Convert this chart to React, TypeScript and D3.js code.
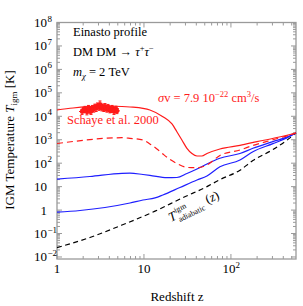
import * as d3 from 'd3';

// curves: redshift z vs IGM temperature [K]
const redSolidZ = [1, 1.53, 2.27, 3.56, 5.59, 6.9, 9.74, 11.7, 16.5, 21, 23.9, 27.3, 31.2, 35.6, 40.7, 46.4, 53, 74.7, 127, 199, 338, 560];
const redSolidT = [18600, 22600, 25700, 27500, 26200, 24900, 21900, 18600, 9620, 4700, 2200, 975, 432, 259, 203, 203, 259, 403, 580, 826, 1250, 1940];

const redDashZ = [1, 1.53, 3.56, 5.59, 6.9, 9.74, 11.7, 14.1, 16.5, 19.9, 23.9, 31.2, 40.7, 53, 74.7, 127, 179, 304, 440, 560];
const redDashT = [692, 842, 1150, 1220, 1150, 975, 659, 403, 247, 144, 97, 66, 64, 84, 213, 366, 569, 1000, 1470, 1940];

const blueUpZ = [1, 2.39, 5.59, 6.9, 9.74, 11.7, 18.4, 23.9, 31.2, 40.7, 53, 74.7, 127, 179, 304, 440, 560];
const blueUpT = [21, 27, 37, 37.5, 33, 30.5, 24.1, 24.5, 36.4, 56.6, 92.5, 162, 259, 432, 830, 1300, 1940];

const blueLowZ = [1, 1.84, 3.56, 6.9, 9.74, 13.4, 16.5, 25.9, 40.7, 53, 74.7, 127, 179, 304, 440, 560];
const blueLowT = [0.81, 0.96, 1.29, 2.0, 2.7, 3.3, 4.4, 9.2, 19.2, 28.5, 70, 137, 310, 680, 1200, 1940];

const adiabZ = [1, 2.39, 5.59, 13.4, 28.1, 53, 74.7, 127, 179, 304, 440, 560];
const adiabT = [0.025, 0.068, 0.23, 0.9, 3.4, 10, 20, 50, 130, 380, 950, 1940];

// Schaye et al. 2000 points (T in units of 1e4 K)
const schayeZ = [1.94, 2.02, 2.1, 2.21, 2.3, 2.38, 2.46, 2.55, 2.65, 2.73, 2.82, 2.92, 3.03, 3.12, 3.19, 3.28, 3.36, 3.46, 3.56, 3.66, 3.75, 3.86, 3.96, 4.06, 4.17, 4.3, 4.4, 4.52, 4.63, 4.76, 4.89];
const schayeT = [1.6, 1.9, 2.05, 1.55, 2.3, 1.85, 1.6, 2.3, 2.0, 2.6, 2.2, 2.9, 2.5, 3.2, 2.8, 2.3, 2.6, 2.1, 2.7, 2.3, 2.0, 2.5, 2.2, 1.8, 1.95, 2.3, 2.0, 1.6, 1.9, 2.1, 1.7];
const schayeErr = [0.4, 0.5, 0.6, 0.4, 0.6, 0.5, 0.4, 0.6, 0.5, 0.7, 0.6, 0.8, 0.7, 1.3, 0.8, 0.6, 0.7, 0.5, 0.8, 0.6, 0.5, 0.7, 0.6, 0.4, 0.5, 0.6, 0.5, 0.4, 0.5, 0.6, 0.4];

const yDecades = [-2, -1, 0, 1, 2, 3, 4, 5, 6, 7, 8];
const xDecades = [0, 1, 2];

const W = 303;
const H = 306;
const left = 57;
const right = 296;
const top = 22.5;
const bottom = 259;
const font = "'Liberation Serif', 'Times New Roman', serif";
const frameColor = '#9a9a9a';
const red = '#ff1a1a';
const blue = '#1f1fff';

const x = d3.scaleLog().domain([1, 560]).range([left, right]);
const y = d3.scaleLog().domain([0.0082, 1e8]).range([bottom, top]);

const line = d3
  .line<[number, number]>()
  .x(d => x(d[0]))
  .y(d => y(d[1]))
  .curve(d3.curveMonotoneX);

const path = (zs: number[], ts: number[]) => line(zs.map((z, i) => [z, ts[i]])) ?? '';

const App = () => {
  // minor / major ticks
  const yTicks: { v: number; major: boolean }[] = [];
  yDecades.forEach(e => {
    for (let m = 1; m <= 9; m++) {
      const v = m * Math.pow(10, e);
      if (v >= 0.0082 && v <= 1e8) yTicks.push({ v, major: m === 1 });
    }
  });
  const xTicks: { v: number; major: boolean }[] = [];
  xDecades.forEach(e => {
    for (let m = 1; m <= 9; m++) {
      const v = m * Math.pow(10, e);
      if (v <= 560) xTicks.push({ v, major: m === 1 });
    }
  });

  return (
    <svg
      width={W}
      height={H}
      style={{ position: 'absolute', left: 0, top: 0, background: '#fff', fontFamily: font }}
    >
      <rect x={0} y={0} width={W} height={H} fill="#fff" />

      {/* frame */}
      <rect x={left} y={top} width={right - left} height={bottom - top} fill="none" stroke={frameColor} strokeWidth={1.3} />
      {yTicks.map((t, i) => {
        const len = t.major ? 5 : 3;
        const yy = y(t.v);
        return (
          <g key={'y' + i} stroke={frameColor} strokeWidth={1}>
            <line x1={left} x2={left + len} y1={yy} y2={yy} />
            <line x1={right} x2={right - len} y1={yy} y2={yy} />
          </g>
        );
      })}
      {xTicks.map((t, i) => {
        const len = t.major ? 5 : 3;
        const xx = x(t.v);
        return (
          <g key={'x' + i} stroke={frameColor} strokeWidth={1}>
            <line x1={xx} x2={xx} y1={bottom} y2={bottom - len} />
            <line x1={xx} x2={xx} y1={top} y2={top + len} />
          </g>
        );
      })}

      {/* y tick labels */}
      {yDecades.map(e => {
        const yy = y(Math.pow(10, e)) + 4.5;
        const base = e === 0 ? '1' : '10';
        const exp = e >= 2 || e < 0 ? String(e).replace('-', '\u2212') : '';
        return (
          <g key={'yl' + e} fontSize={13} fill="#000">
            <text x={47} y={yy} textAnchor="end">{base}</text>
            {exp && (
              <text x={47.5} y={yy - 5.5} fontSize={9}>{exp}</text>
            )}
          </g>
        );
      })}
      {/* x tick labels */}
      {xDecades.map(e => {
        const xx = x(Math.pow(10, e));
        const base = e === 0 ? '1' : '10';
        return (
          <g key={'xl' + e} fontSize={13} fill="#000">
            <text x={e === 2 ? xx - 2 : xx} y={273} textAnchor="middle">{base}</text>
            {e >= 2 && (
              <text x={xx + 4.5} y={267.5} fontSize={9}>{e}</text>
            )}
          </g>
        );
      })}

      {/* axis titles */}
      <text x={177} y={301} fontSize={13} textAnchor="middle">Redshift z</text>
      <text transform="translate(14,140) rotate(-90)" fontSize={13} textAnchor="middle">
        IGM Temperature <tspan fontStyle="italic">T</tspan>
        <tspan fontSize={9} dy={3}>igm</tspan>
        <tspan dy={-3}> [K]</tspan>
      </text>

      {/* curves */}
      <g fill="none" strokeWidth={1.2}>
        <path d={path(adiabZ, adiabT)} stroke="#000" strokeDasharray="5,3.5" />
        <path d={path(blueLowZ, blueLowT)} stroke={blue} />
        <path d={path(blueUpZ, blueUpT)} stroke={blue} />
        <path d={path(redDashZ, redDashT)} stroke={red} strokeDasharray="6,4" />
        <path d={path(redSolidZ, redSolidT)} stroke={red} />
      </g>

      {/* Schaye et al. 2000 */}
      <g fill={red} stroke={red} strokeWidth={1}>
        {schayeZ.map((z, i) => {
          const cx = x(z);
          const t = schayeT[i] * 1e4;
          const e = schayeErr[i] * 1e4;
          return (
            <g key={'s' + i}>
              <line x1={cx} x2={cx} y1={y(t + e)} y2={y(t - e)} />
              <line x1={cx - 1.5} x2={cx + 1.5} y1={y(t + e)} y2={y(t + e)} />
              <line x1={cx - 1.5} x2={cx + 1.5} y1={y(t - e)} y2={y(t - e)} />
              <line x1={cx - 3} x2={cx + 3} y1={y(t)} y2={y(t)} />
              <circle cx={cx} cy={y(t)} r={2.3} stroke="none" />
            </g>
          );
        })}
      </g>

      {/* annotations */}
      <g fontSize={12.5} fill="#000">
        <text x={73} y={36}>Einasto profile</text>
        <text x={73} y={56}>
          DM DM {'\u2192'} <tspan fontStyle="italic">{'\u03c4'}</tspan>
          <tspan fontSize={8.5} dy={-5}>+</tspan>
          <tspan fontStyle="italic" dy={5}>{'\u03c4'}</tspan>
          <tspan fontSize={8.5} dy={-5}>{'\u2212'}</tspan>
        </text>
        <text x={73} y={76}>
          <tspan fontStyle="italic">m</tspan>
          <tspan fontSize={8.5} fontStyle="italic" dy={3}>{'\u03c7'}</tspan>
          <tspan dy={-3}> = 2 TeV</tspan>
        </text>
      </g>
      <text x={158} y={102} fontSize={12.5} fill={red}>
        <tspan fontStyle="italic">{'\u03c3'}</tspan>v = 7.9 10
        <tspan fontSize={8.5} dy={-5}>{'\u2212'}22</tspan>
        <tspan dy={5}> cm</tspan>
        <tspan fontSize={8.5} dy={-5}>3</tspan>
        <tspan dy={5}>/s</tspan>
      </text>
      <text x={67} y={124} fontSize={12.5} fill={red}>Schaye et al. 2000</text>

      <g transform="translate(171,222) rotate(-26)" fill="#000">
        <text x={0} y={0} fontSize={13} fontStyle="italic">T</text>
        <text x={8} y={-6} fontSize={8}>igm</text>
        <text x={8} y={4} fontSize={8}>adiabatic</text>
        <text x={41} y={0} fontSize={13}>(<tspan fontStyle="italic">z</tspan>)</text>
      </g>
    </svg>
  );
};

export default App;
